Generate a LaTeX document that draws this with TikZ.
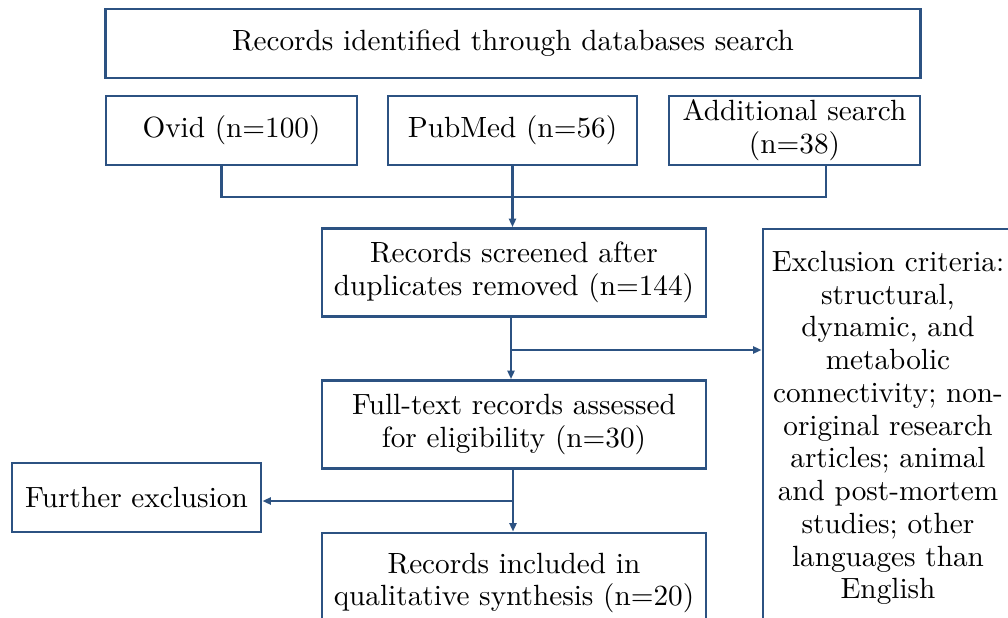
\documentclass[tikz,border=0pt]{standalone}
\usepackage{fontspec}
\setmainfont{lmroman10-regular}[Extension=.otf]
\usetikzlibrary{arrows.meta,positioning,calc}

\definecolor{flowblue}{RGB}{44,82,130}

\tikzset{
  box/.style={draw=flowblue,line width=2pt,fill=white,align=center,
    inner sep=2pt,font=\fontsize{20.8}{23.3}\selectfont},
  link/.style={draw=flowblue,line width=1.6pt},
  arr/.style={link,-{Triangle[length=6pt,width=5pt]}}
}

\begin{document}
\begin{tikzpicture}[x=0.025cm,y=-0.025cm]
  \clip (0,0) rectangle (1008,618);
  \fill[white] (0,0) rectangle (1008,618);

  % search
  \node[box,minimum width=20.35cm,minimum height=1.725cm] (search) at (513,43.5)
    {Records identified through databases search};
  \node[box,minimum width=6.275cm,minimum height=1.725cm] (ovid) at (231.5,130.5)
    {Ovid (n=100)};
  \node[box,minimum width=6.225cm,minimum height=1.725cm] (pubmed) at (512.5,130.5)
    {PubMed (n=56)};
  \node[box,minimum width=6.275cm,minimum height=1.725cm] (extra) at (794.5,130.5)
    {Additional search\\(n=38)};

  % screening
  \node[box,minimum width=9.6cm,minimum height=2.2cm] (screened) at (514,272.5)
    {Records screened after\\duplicates removed (n=144)};
  \node[box,minimum width=9.6cm,minimum height=2.2cm] (fulltext) at (514,424.5)
    {Full-text records assessed\\for eligibility (n=30)};
  \node[box,minimum width=9.6cm,minimum height=2.5cm] (included) at (514,583)
    {Records included in\\qualitative synthesis (n=20)};
  \node[box,minimum width=6.225cm,minimum height=1.725cm] (further) at (136.5,497.5)
    {Further exclusion};
  \node[box,minimum width=6.25cm,minimum height=9.95cm] (criteria) at (888,428)
    {Exclusion criteria:\\structural,\\dynamic, and\\metabolic\\connectivity; non-\\original research\\articles; animal\\and post-mortem\\studies; other\\languages than\\English};

  % links
  \coordinate (ovidout) at ($(ovid.south)+(-10,0)$);
  \coordinate (extraout) at ($(extra.south)+(31.5,0)$);
  \coordinate (merge) at (513,197);
  \coordinate (split1) at (511,350);
  \coordinate (split2) at (513,501);
  \draw[link] (ovidout) -- (ovidout |- merge) -- (extraout |- merge) -- (extraout);
  \draw[arr] (pubmed.south) -- (screened.north -| pubmed.south);
  \draw[arr] (screened.south -| split1) -- (fulltext.north -| split1);
  \draw[arr] (split1) -- (split1 -| criteria.west);
  \draw[arr] (fulltext.south -| split2) -- (included.north -| split2);
  \draw[arr] (split2) -- (split2 -| further.east);
\end{tikzpicture}
\end{document}
